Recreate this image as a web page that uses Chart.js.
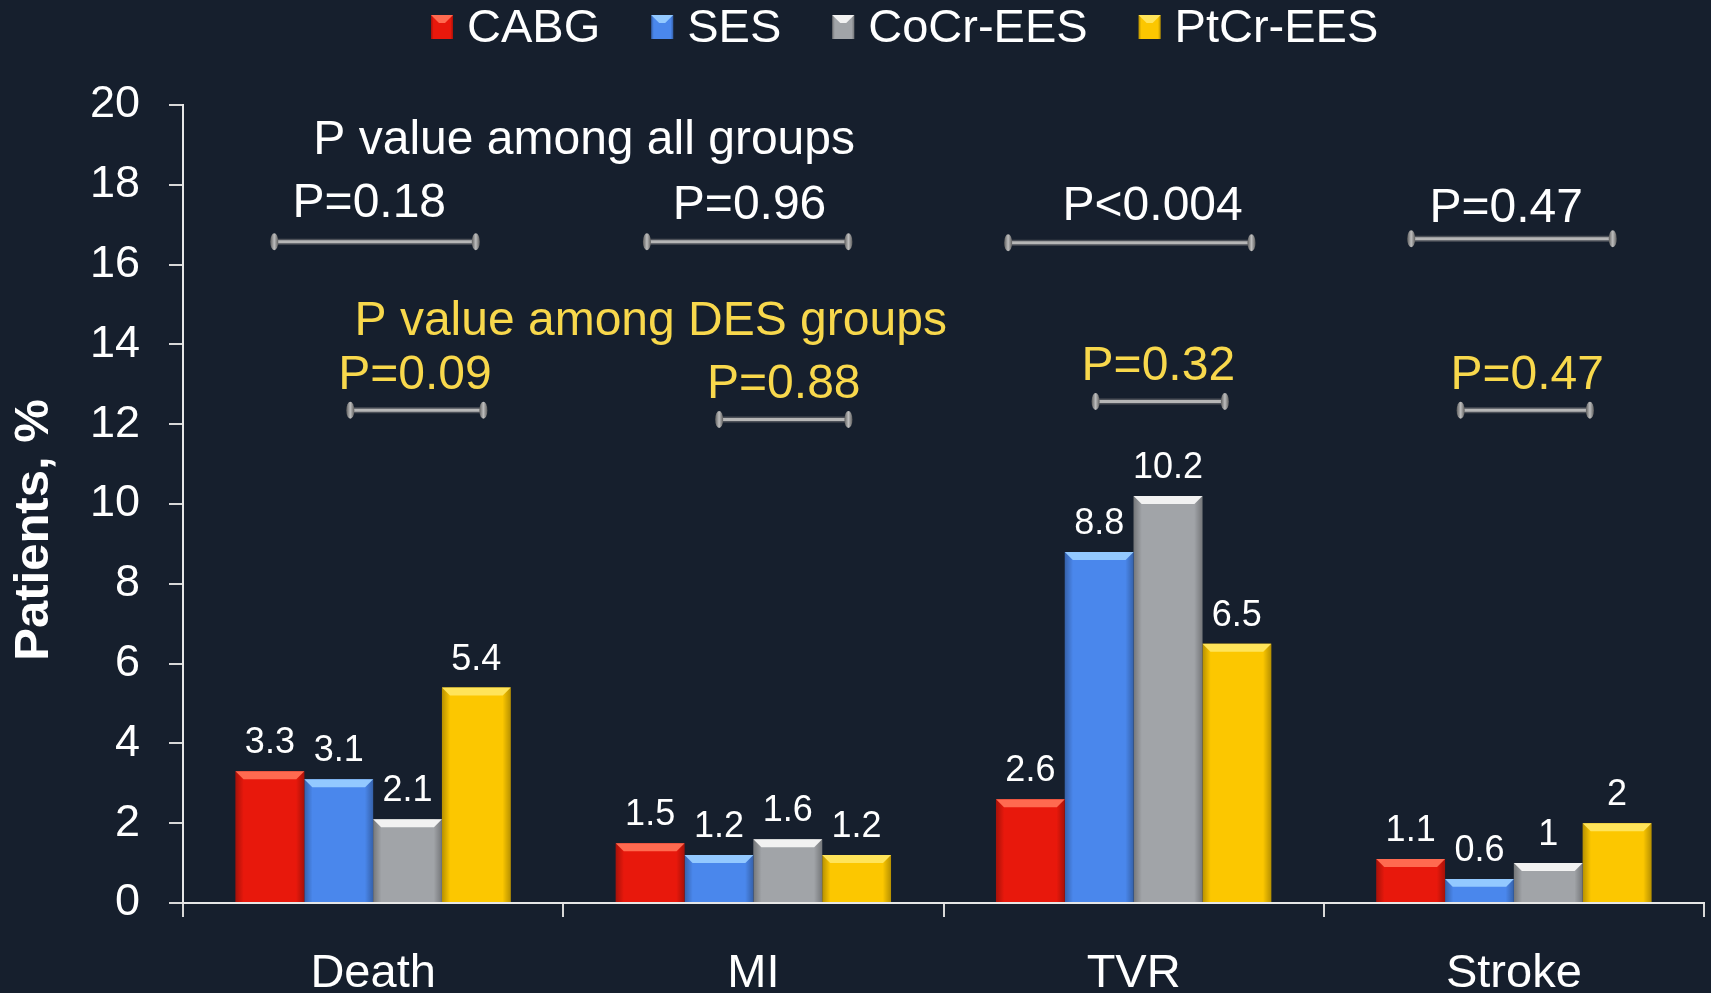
<!DOCTYPE html>
<html lang="en">
  <head>
    <meta charset="UTF-8" />
    <title>Clinical outcomes by group</title>
    <script src="https://cdn.jsdelivr.net/npm/chart.js"></script>
    <style>
      html,
      body {
        margin: 0;
        padding: 0;
        background-color: #161f2d;
      }
      #chart-container {
        width: 1711px;
        height: 993px;
      }
    </style>
  </head>
  <body>
    <div id="chart-container">
      <canvas id="outcomeChart" width="1711" height="993"></canvas>
    </div>
    <script>
      // ---- data ----
      const categories = ["Death", "MI", "TVR", "Stroke"];
      const groups = ["CABG", "SES", "CoCr-EES", "PtCr-EES"];
      const cabgValues = [3.3, 1.5, 2.6, 1.1];
      const sesValues = [3.1, 1.2, 8.8, 0.6];
      const cocrValues = [2.1, 1.6, 10.2, 1.0];
      const ptcrValues = [5.4, 1.2, 6.5, 2.0];
      const yMin = 0;
      const yMax = 20;
      const yStep = 2;
      const pAllGroups = ["P=0.18", "P=0.96", "P<0.004", "P=0.47"];
      const pDesGroups = ["P=0.09", "P=0.88", "P=0.32", "P=0.47"];

      // ---- styling ----
      const FONT = "'Liberation Sans', Arial, sans-serif";
      const barColors = ["#e8180c", "#4a87ec", "#a1a4a8", "#fcc700"];
      const bevelColors = ["#ff6a50", "#93c9ff", "#f2f2f2", "#ffe45a"];
      const yellow = "#f8d84c";

      // where the p-value notes sit: x as offset in category widths, y in axis units
      const allLayout = [
        { tx: -0.01, ty: 17.52, b1: -0.26, b2: 0.27, by: 16.57 },
        { tx: -0.01, ty: 17.47, b1: -0.28, b2: 0.25, by: 16.57 },
        { tx: 0.05, ty: 17.45, b1: -0.33, b2: 0.31, by: 16.55 },
        { tx: -0.02, ty: 17.4, b1: -0.27, b2: 0.26, by: 16.65 },
      ];
      const desLayout = [
        { tx: 0.11, ty: 13.22, b1: -0.06, b2: 0.29, by: 12.35 },
        { tx: 0.08, ty: 13.0, b1: -0.09, b2: 0.25, by: 12.12 },
        { tx: 0.065, ty: 13.45, b1: -0.1, b2: 0.24, by: 12.57 },
        { tx: 0.035, ty: 13.22, b1: -0.14, b2: 0.2, by: 12.35 },
      ];

      function drawBracket(ctx, x1, x2, yy) {
        ctx.save();
        ctx.lineCap = "butt";
        ctx.strokeStyle = "#4c5058";
        ctx.lineWidth = 6;
        ctx.beginPath();
        ctx.moveTo(x1, yy);
        ctx.lineTo(x2, yy);
        ctx.stroke();
        ctx.strokeStyle = "#b6b6b6";
        ctx.lineWidth = 3;
        ctx.beginPath();
        ctx.moveTo(x1, yy);
        ctx.lineTo(x2, yy);
        ctx.stroke();
        [x1, x2].forEach(function (cx) {
          const g = ctx.createLinearGradient(cx - 4, 0, cx + 4, 0);
          g.addColorStop(0, "#5e5e5e");
          g.addColorStop(0.5, "#bdbdbd");
          g.addColorStop(1, "#5e5e5e");
          ctx.fillStyle = g;
          ctx.beginPath();
          ctx.ellipse(cx, yy, 4, 8.5, 0, 0, Math.PI * 2);
          ctx.fill();
        });
        ctx.restore();
      }

      function shadeBlock(ctx, l, top, w, h, i) {
        // darker sides and a lighter bevel on top, like the slide's 3D bars
        const g = ctx.createLinearGradient(l, 0, l + w, 0);
        g.addColorStop(0, "rgba(0,0,0,0.28)");
        g.addColorStop(0.12, "rgba(0,0,0,0)");
        g.addColorStop(0.88, "rgba(0,0,0,0)");
        g.addColorStop(1, "rgba(0,0,0,0.28)");
        ctx.fillStyle = g;
        ctx.fillRect(l, top, w, h);
        const bev = Math.min(8, h / 3);
        ctx.beginPath();
        ctx.moveTo(l, top);
        ctx.lineTo(l + w, top);
        ctx.lineTo(l + w - bev, top + bev);
        ctx.lineTo(l + bev, top + bev);
        ctx.closePath();
        ctx.fillStyle = bevelColors[i];
        ctx.fill();
      }

      const decorPlugin = {
        id: "decor",
        afterDatasetsDraw(chart) {
          const ctx = chart.ctx;
          ctx.save();
          chart.data.datasets.forEach(function (ds, di) {
            const meta = chart.getDatasetMeta(di);
            meta.data.forEach(function (bar, i) {
              const p = bar.getProps(["x", "y", "base", "width"], true);
              const l = p.x - p.width / 2;
              shadeBlock(ctx, l, p.y, p.width, p.base - p.y, di);
              ctx.fillStyle = "#ffffff";
              ctx.font = "36px " + FONT;
              ctx.textAlign = "center";
              ctx.textBaseline = "alphabetic";
              ctx.fillText(String(ds.data[i]), p.x, p.y - 18);
            });
          });
          ctx.restore();
        },
        afterDraw(chart) {
          const ctx = chart.ctx;
          const xs = chart.scales.x;
          const ys = chart.scales.y;
          const catW = xs.getPixelForValue(1) - xs.getPixelForValue(0);
          const px = (idx, off) => xs.getPixelForValue(idx) + off * catW;
          ctx.save();

          // legend
          ctx.font = "47px " + FONT;
          ctx.textBaseline = "middle";
          ctx.textAlign = "left";
          let lx = 431;
          groups.forEach(function (name, i) {
            ctx.fillStyle = barColors[i];
            ctx.fillRect(lx, 15, 22, 24);
            shadeBlock(ctx, lx, 15, 22, 24, i);
            ctx.fillStyle = "#ffffff";
            ctx.fillText(name, lx + 36, 29);
            lx += 36 + ctx.measureText(name).width + 51;
          });

          // y axis title
          ctx.save();
          ctx.translate(34, 530);
          ctx.rotate(-Math.PI / 2);
          ctx.font = "bold 49px " + FONT;
          ctx.textAlign = "center";
          ctx.fillStyle = "#ffffff";
          ctx.fillText("Patients, %", 0, 0);
          ctx.restore();

          // p-value notes
          ctx.font = "48px " + FONT;
          ctx.textAlign = "center";
          ctx.textBaseline = "middle";
          ctx.fillStyle = "#ffffff";
          ctx.fillText("P value among all groups", px(0.555, 0), ys.getPixelForValue(19.1));
          ctx.fillStyle = yellow;
          ctx.fillText("P value among DES groups", px(0.73, 0), ys.getPixelForValue(14.57));

          categories.forEach(function (c, i) {
            const a = allLayout[i];
            const d = desLayout[i];
            drawBracket(ctx, px(i, a.b1), px(i, a.b2), ys.getPixelForValue(a.by));
            drawBracket(ctx, px(i, d.b1), px(i, d.b2), ys.getPixelForValue(d.by));
            ctx.fillStyle = "#ffffff";
            ctx.fillText(pAllGroups[i], px(i, a.tx), ys.getPixelForValue(a.ty));
            ctx.fillStyle = yellow;
            ctx.fillText(pDesGroups[i], px(i, d.tx), ys.getPixelForValue(d.ty));
          });
          ctx.restore();
        },
      };

      const seriesValues = [cabgValues, sesValues, cocrValues, ptcrValues];
      const ctx = document.getElementById("outcomeChart").getContext("2d");
      const outcomeChart = new Chart(ctx, {
        type: "bar",
        data: {
          labels: categories,
          datasets: groups.map(function (name, i) {
            return {
              label: name,
              data: seriesValues[i],
              backgroundColor: barColors[i],
              borderWidth: 0,
              categoryPercentage: 0.724,
              barPercentage: 1.0,
            };
          }),
        },
        options: {
          responsive: false,
          animation: false,
          devicePixelRatio: 1,
          layout: { padding: { top: 105, right: 7, left: 0, bottom: 0 } },
          plugins: {
            legend: { display: false },
            tooltip: { enabled: false },
          },
          scales: {
            x: {
              grid: {
                offset: true,
                drawOnChartArea: false,
                drawTicks: true,
                tickLength: 14,
                color: "#d8d8d8",
                lineWidth: 2,
              },
              border: { display: true, color: "#e6e6e6", width: 2 },
              ticks: {
                color: "#ffffff",
                font: { family: FONT, size: 47 },
                padding: 29,
              },
              afterFit(scale) {
                scale.height = 90;
              },
            },
            y: {
              min: yMin,
              max: yMax,
              ticks: {
                stepSize: yStep,
                color: "#ffffff",
                font: { family: FONT, size: 45 },
                padding: 29,
              },
              grid: {
                drawOnChartArea: false,
                drawTicks: true,
                tickLength: 14,
                color: "#d8d8d8",
                lineWidth: 2,
              },
              border: { display: true, color: "#e6e6e6", width: 2 },
              afterFit(scale) {
                scale.width = 183;
              },
            },
          },
        },
        plugins: [decorPlugin],
      });
    </script>
  </body>
</html>
